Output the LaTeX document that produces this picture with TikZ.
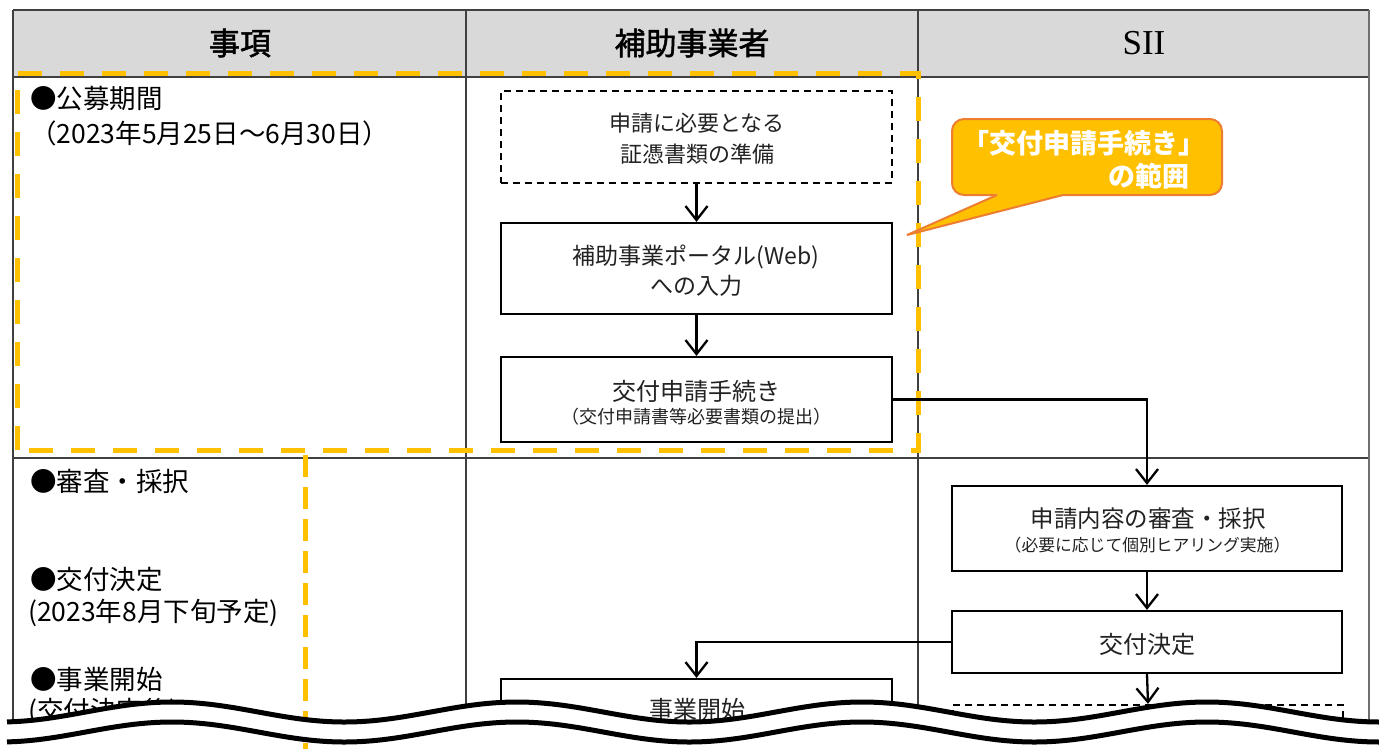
\documentclass[tikz,border=0pt]{standalone}
\usepackage{fontspec}
\setmainfont{Noto Sans CJK JP}
\newfontfamily\serifen{Liberation Serif}
\newfontfamily\hdrfont{Noto Sans CJK JP}[FakeBold=1.6]
\usetikzlibrary{arrows.meta}
\definecolor{hdrgray}{HTML}{D9D9D9}
\definecolor{gridc}{HTML}{404040}
\definecolor{gridr}{HTML}{707070}
\definecolor{ylw}{HTML}{FFC000}
\definecolor{orng}{HTML}{ED7D31}
\definecolor{txt}{HTML}{222222}
\begin{document}
\begin{tikzpicture}[x=1pt,y=-1pt,
  grid/.style={draw=gridc, line width=1.3pt},
  hdr/.style={inner sep=0pt, text=black, font={\hdrfont\fontsize{31}{36}\selectfont}},
  lefttxt/.style={inner sep=0pt, anchor=west, text=black, font={\fontsize{26.5}{30}\selectfont}},
  boxshape/.style={draw=black, line width=2.2pt, fill=white, inner sep=0pt, minimum width=391pt},
  dashbox/.style={boxshape, dash pattern=on 7pt off 5pt},
  btxt/.style={inner sep=0pt, text=txt, font={\fontsize{23}{27}\selectfont}},
  bsub/.style={inner sep=0pt, text=txt, font={\fontsize{16.5}{20}\selectfont}},
  conn/.style={draw=black, line width=2.3pt},
  arr/.style={conn, -{Straight Barb[length=14pt,width=22pt]}},
  ylwframe/.style={draw=ylw, line width=5pt, dash pattern=on 24pt off 18pt},
  ylwvert/.style={draw=ylw, line width=5pt, dash pattern=on 22pt off 10pt},
  cot/.style={inner sep=0pt, text=white, font={\bfseries\fontsize{27}{31}\selectfont}},
  wave/.style={draw=black, line width=5pt}
]
\useasboundingbox (0,0) rectangle (1379,748);
% header background
\fill[hdrgray] (13,10) rectangle (1369,77);
% grid
\draw[grid] (13,10) -- (1369,10);
\draw[grid] (13,77) -- (1369,77);
\draw[grid] (13,458) -- (1369,458);
\draw[grid] (13,10) -- (13,760);
\draw[grid] (466,10) -- (466,760);
\draw[grid] (918,10) -- (918,760);
\draw[draw=gridr, line width=2pt] (1369,10) -- (1369,760);
% header text
\node[hdr] (h1) at (240,43) {事項};
\node[hdr] (h2) at (692,43) {補助事業者};
\node[hdr, font={\serifen\fontsize{35}{40}\selectfont}] (h3) at (1144,43.5) {SII};
% left column
\node[lefttxt] (l1) at (30,98.5) {●公募期間};
\node[lefttxt] (l2) at (30,133) {（2023年5月25日～6月30日）};
\node[lefttxt] (l3) at (30,481) {●審査・採択};
\node[lefttxt] (l4) at (30,579) {●交付決定};
\node[lefttxt] (l5) at (28,612.5) {(2023年8月下旬予定)};
\node[lefttxt] (l6) at (30,679) {●事業開始};
\node[lefttxt] (l7) at (28,712) {(交付決定後)};
% yellow scope frame
\draw[ylwframe] (17,450) -- (17,73) -- (918,73) -- (918,450) -- cycle;
\draw[ylwvert] (305,455) -- (305,760);
% boxes
\node[dashbox, minimum height=92pt] (b1) at (696.5,137) {};
\node[btxt, font={\fontsize{22}{26}\selectfont}] (t1a) at (697,123) {申請に必要となる};
\node[btxt, font={\fontsize{22}{26}\selectfont}] (t1b) at (697,154) {証憑書類の準備};
\node[boxshape, minimum height=91pt] (b2) at (696.5,268.5) {};
\node[btxt] (t2a) at (696,256.5) {補助事業ポータル(Web)};
\node[btxt] (t2b) at (696,286) {への入力};
\node[boxshape, minimum height=85pt] (b3) at (696.5,399.5) {};
\node[btxt, font={\fontsize{24}{28}\selectfont}] (t3a) at (696.5,391) {交付申請手続き};
\node[bsub, font={\fontsize{18}{21}\selectfont}] (t3b) at (696.5,416.5) {（交付申請書等必要書類の提出）};
\node[boxshape, minimum width=390pt, minimum height=85pt] (b4) at (1147,528.5) {};
\node[btxt, font={\fontsize{23.5}{28}\selectfont}] (t4a) at (1148,519) {申請内容の審査・採択};
\node[bsub, font={\fontsize{16.8}{20}\selectfont}] (t4b) at (1147.5,545) {（必要に応じて個別ヒアリング実施）};
\node[boxshape, minimum width=390pt, minimum height=62pt] (b5) at (1147,642) {};
\node[btxt, font={\fontsize{24}{28}\selectfont}] (t5) at (1147,644) {交付決定};
\node[boxshape, minimum height=70pt] (b6) at (696.5,714) {};
\node[btxt, font={\fontsize{24}{28}\selectfont}] (t6) at (697,709) {事業開始};
\node[dashbox, minimum width=390pt, minimum height=55pt] (b7) at (1148,732.5) {};
% connectors
\draw[arr] (b1.south) -- (b2.north);
\draw[arr] (b2.south) -- (b3.north);
\draw[arr] (b3.east) -| (b4.north);
\draw[arr] (b4.south) -- (b5.north);
\draw[arr] (b5.west) -| (b6.north);
\draw[arr] (b5.south) -- (b7.north);
% callout
\node[draw=orng, fill=ylw, line width=2pt, rounded corners=12pt, minimum width=270pt, minimum height=76pt, inner sep=0pt] (co) at (1087,157) {};
\fill[ylw] (997,190) -- (1063,190) -- (1063,195) -- (907,235) -- (997,195) -- cycle;
\draw[draw=orng, line width=2pt, line join=miter] (997,195) -- (907,235) -- (1063,195);
\node[cot] (co1) at (1084,143.5) {「交付申請手続き」};
\node[cot, anchor=east] (co2) at (1190,176) {の範囲};
% break wave
\fill[white] plot[domain=0:1379, samples=140, smooth] (\x,{712-10*cos((\x-172)*1.043478)}) -- (1379,760) -- (0,760) -- cycle;
\begin{scope}
\clip plot[domain=0:1379, samples=140, smooth] (\x,{732-10*cos((\x-172)*1.043478)}) -- (1379,760) -- (0,760) -- cycle;
\draw[ylwvert] (305,455) -- (305,760);
\end{scope}
\draw[wave] plot[domain=7:1379, samples=140, smooth] (\x,{712-10*cos((\x-172)*1.043478)});
\draw[wave] plot[domain=7:1379, samples=140, smooth] (\x,{732-10*cos((\x-172)*1.043478)});
\end{tikzpicture}
\end{document}
